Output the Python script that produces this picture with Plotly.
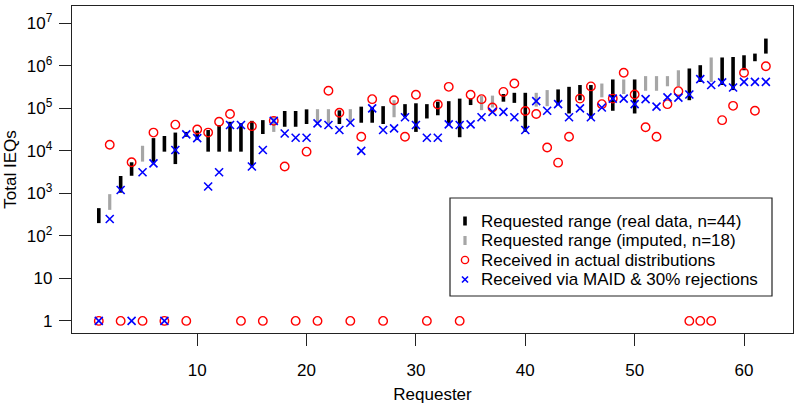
import plotly.graph_objects as go

requester = list(range(1, 63))

req_low = [200, 410, 1040, 2600, 5600, 5100, 9600, 4900, 21500, 18000,
           9600, 9600, 9600, 9600, 4300, 25000, 28000, 37000, 37000, 43000,
           44500, 44500, 43000, 43000, 46000, 46000, 43000, 62000, 62000, 28000,
           58000, 69000, 40600, 21000, 120000, 91000, 105000, 144000, 135000, 28000,
           110000, 113000, 120000, 76000, 156000, 58000, 182000, 88000, 218000, 76000,
           260000, 260000, 332000, 332000, 156000, 420000, 420000, 355000, 270000, 790000,
           1290000, 1950000]
req_high = [450, 960, 2570, 5400, 13200, 20000, 22400, 27000, 28000, 30000,
            31000, 40600, 48500, 45000, 51000, 53000, 63000, 87000, 87000, 95000,
            96000, 96000, 90000, 96000, 110000, 105000, 113000, 156000, 126000, 132000,
            126000, 144000, 148000, 170000, 170000, 195000, 200000, 218000, 233000, 233000,
            233000, 270000, 280000, 322000, 355000, 355000, 385000, 480000, 480000, 480000,
            575000, 575000, 575000, 790000, 870000, 1040000, 1580000, 1580000, 1620000, 1780000,
            1950000, 4400000]
imputed = [2, 5, 17, 21, 22, 24, 28, 36, 37, 41, 42, 47, 49, 51, 52, 53, 54, 57]

received_actual = [1, 14000, 1, 5400, 1, 27000, 1, 41500, 1, 32000,
                   27000, 48500, 74000, 1, 38300, 1, 51000, 4300, 1, 9600,
                   1, 260000, 79000, 1, 21500, 165000, 1, 156000, 21500, 209000,
                   1, 124000, 322000, 1, 209000, 165000, 105000, 245000, 385000, 87000,
                   74000, 12000, 5300, 21500, 170000, 330000, 126000, 170000, 690000, 213000,
                   36000, 21500, 126000, 255000, 1, 1, 1, 53000, 115000, 690000,
                   88000, 980000]
received_maid = [1, 250, 1200, 1, 3150, 5100, 1, 10500, 24500, 20000,
                 1450, 3150, 40600, 40600, 4300, 10500, 51000, 25700, 20400, 20400,
                 44500, 40600, 31000, 46000, 10000, 100000, 31000, 34000, 62000, 40600,
                 20400, 20400, 42000, 40600, 42000, 62000, 83000, 83000, 62000, 31000,
                 148000, 88000, 126000, 62000, 100000, 62000, 105000, 170000, 170000, 126000,
                 165000, 110000, 182000, 180000, 213000, 490000, 355000, 410000, 310000, 420000,
                 420000, 420000]

legend_labels = ["Requested range (real data, n=44)",
                 "Requested range (imputed, n=18)",
                 "Received in actual distributions",
                 "Received via MAID &amp; 30% rejections"]

y_tickvals = [1, 10, 100, 1e3, 1e4, 1e5, 1e6, 1e7]
y_ticktext = ["1", "10", "10<sup>2</sup>", "10<sup>3</sup>", "10<sup>4</sup>",
              "10<sup>5</sup>", "10<sup>6</sup>", "10<sup>7</sup>"]
x_tickvals = [10, 20, 30, 40, 50, 60]

BLACK = "black"
GRAY = "#a6a6a6"
RED = "#ff0000"
BLUE = "#0000ff"
FONT = "Liberation Sans, Arial, sans-serif"
FS = 17


def segs(flag):
    xs, ys = [], []
    for r, lo, hi in zip(requester, req_low, req_high):
        if (r in imputed) == flag:
            xs += [r, r, None]
            ys += [lo, hi, None]
    return xs, ys


xr, yr = segs(False)
xi, yi = segs(True)

fig = go.Figure()
fig.add_trace(go.Scatter(x=xr, y=yr, mode="lines", line=dict(color=BLACK, width=3.6),
                         name=legend_labels[0], showlegend=False, hoverinfo="skip"))
fig.add_trace(go.Scatter(x=xi, y=yi, mode="lines", line=dict(color=GRAY, width=3.2),
                         name=legend_labels[1], showlegend=False, hoverinfo="skip"))
fig.add_trace(go.Scatter(x=requester, y=received_actual, mode="markers",
                         name=legend_labels[2], showlegend=False,
                         marker=dict(symbol="circle-open", size=8.5, color=RED,
                                     line=dict(color=RED, width=1.4))))
fig.add_trace(go.Scatter(x=requester, y=received_maid, mode="markers",
                         name=legend_labels[3], showlegend=False,
                         marker=dict(symbol="x-thin-open", size=8, color=BLUE,
                                     line=dict(color=BLUE, width=1.6))))

axis_common = dict(showline=True, mirror=True, linecolor="#222222", linewidth=1.2,
                   ticks="outside", ticklen=12, tickcolor="#222222", tickwidth=1,
                   showgrid=False, zeroline=False, automargin=False,
                   tickfont=dict(family=FONT, size=FS, color="black"))

fig.update_xaxes(range=[-1.45, 64.48], tickvals=x_tickvals, ticklabelstandoff=9,
                 title=dict(text="Requester", font=dict(family=FONT, size=FS, color="black"),
                            standoff=9),
                 **axis_common)
fig.update_yaxes(type="log", range=[-0.285, 7.41], tickvals=y_tickvals, ticktext=y_ticktext,
                 ticklabelstandoff=3,
                 title=dict(text="Total IEQs", font=dict(family=FONT, size=FS, color="black"),
                            standoff=6),
                 **axis_common)

# ---- legend box (drawn in paper coordinates, R style) ----
L, R_, T, B = 72, 793, 6, 333          # plot area in pixels


def px(xp):
    return (xp - L) / (R_ - L)


def py(yp):
    return (B - yp) / (B - T)


shapes = [dict(type="rect", xref="paper", yref="paper",
               x0=px(450), x1=px(772), y0=py(296), y1=py(198),
               line=dict(color="#222222", width=1.2), fillcolor="white", layer="above")]
row_y = [221, 240.5, 260, 279.5]
sym_x = px(465)
txt_x = px(479)
annotations = []
for lab, yy in zip(legend_labels, row_y):
    annotations.append(dict(xref="paper", yref="paper", x=txt_x, y=py(yy),
                            xanchor="left", yanchor="middle", showarrow=False,
                            text=lab, font=dict(family=FONT, size=FS, color="black")))

common = dict(xref="paper", yref="paper", xsizemode="pixel", ysizemode="pixel",
              xanchor=sym_x, layer="above")
shapes.append(dict(type="line", yanchor=py(row_y[0]), x0=0, x1=0, y0=-4.5, y1=4.5,
                   line=dict(color=BLACK, width=3.6), **common))
shapes.append(dict(type="line", yanchor=py(row_y[1]), x0=0, x1=0, y0=-4.5, y1=4.5,
                   line=dict(color=GRAY, width=3.2), **common))
shapes.append(dict(type="circle", yanchor=py(row_y[2]), x0=-3.6, x1=3.6, y0=-3.6, y1=3.6,
                   line=dict(color=RED, width=1.4), **common))
shapes.append(dict(type="line", yanchor=py(row_y[3]), x0=-3, x1=3, y0=-3, y1=3,
                   line=dict(color=BLUE, width=1.6), **common))
shapes.append(dict(type="line", yanchor=py(row_y[3]), x0=-3, x1=3, y0=3, y1=-3,
                   line=dict(color=BLUE, width=1.6), **common))

fig.update_layout(
    width=800, height=410,
    margin=dict(l=L, r=800 - R_, t=T, b=410 - B),
    paper_bgcolor="white", plot_bgcolor="white",
    font=dict(family=FONT, size=FS, color="black"),
    showlegend=False,
    shapes=shapes, annotations=annotations,
)

fig.write_html("out.html",
               config=dict(displayModeBar=False, staticPlot=True),
               post_script="document.body.style.margin='0';document.body.style.overflow='hidden';")
